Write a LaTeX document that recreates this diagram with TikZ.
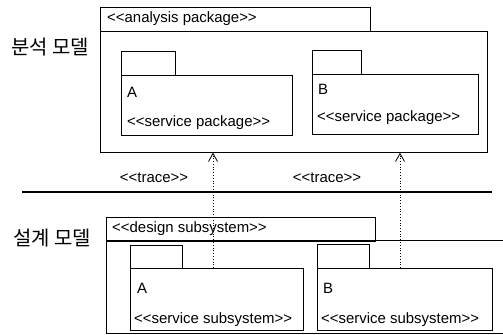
\documentclass[tikz,border=0pt]{standalone}
\usepackage{fontspec}
\setmainfont{Liberation Sans}[Ligatures=TeXOff]
\newfontfamily\hangul{Noto Sans CJK KR}
\usetikzlibrary{positioning, arrows.meta}
\tikzset{pkgbox/.style={draw, line width=0.7bp, anchor=north west, inner sep=0pt},
         stereo/.style={anchor=west, inner sep=0pt, font=\fontsize{15}{17}\selectfont},
         modellabel/.style={inner sep=0pt, font=\hangul\fontsize{20}{22}\selectfont},
         trace/.style={line width=0.8bp, dotted, -{Straight Barb[length=8bp,width=9bp]}},
         separator/.style={line width=1.6bp}}

\begin{document}
\begin{tikzpicture}[x=1bp, y=-1bp]
        \useasboundingbox (0,0) rectangle (503,334);
        \clip (0,0) rectangle (503,334);
        % analysis model
        \node (anaTab) [pkgbox, minimum width=270bp, minimum height=24bp] at (100,7) {};
        \node (anaBody) [pkgbox, minimum width=387bp, minimum height=121bp] at (100,31) {};
        \node (anaText) [stereo] at (107,19) {<<analysis package>>};
        \node (pkgATab) [pkgbox, minimum width=54bp, minimum height=24bp] at (121,51) {};
        \node (pkgA) [pkgbox, minimum width=171bp, minimum height=60bp] at (121,75) {};
        \node (pkgAName) [stereo] at (127,92) {A};
        \node (pkgAText) [stereo] at (127,123) {<<service package>>};
        \node (pkgBTab) [pkgbox, minimum width=49bp, minimum height=24bp] at (312,50) {};
        \node (pkgB) [pkgbox, minimum width=166bp, minimum height=60bp] at (312,74) {};
        \node (pkgBName) [stereo] at (318,89) {B};
        \node (pkgBText) [stereo] at (317,118) {<<service package>>};
        \node (anaLabel) [modellabel] at (50,47) {분석 모델};

        % separator
        \coordinate (sepL) at (22,192);
        \coordinate (sepR) at (492,192);
        \draw [separator] (sepL) -- (sepR);
        \node (traceA) [stereo, anchor=center] at (154,178) {<<trace>>};
        \node (traceB) [stereo, anchor=center] at (327,178) {<<trace>>};

        % design model
        \node (desTab) [pkgbox, minimum width=269bp, minimum height=24bp] at (106,217) {};
        \node (desBody) [pkgbox, minimum width=420bp, minimum height=93bp] at (106,240) {};
        \node (desText) [stereo] at (112,229) {<<design subsystem>>};
        \node (subATab) [pkgbox, minimum width=52bp, minimum height=23bp] at (130,245) {};
        \node (subA) [pkgbox, minimum width=173bp, minimum height=62bp] at (130,268) {};
        \node (subAName) [stereo] at (137,288) {A};
        \node (subAText) [stereo] at (134,320) {<<service subsystem>>};
        \node (subBTab) [pkgbox, minimum width=52bp, minimum height=24bp] at (317,244) {};
        \node (subB) [pkgbox, minimum width=175bp, minimum height=62bp] at (317,268) {};
        \node (subBName) [stereo] at (323,288) {B};
        \node (subBText) [stereo] at (321,320) {<<service subsystem>>};
        \node (desLabel) [modellabel] at (52,238) {설계 모델};

        % trace dependencies
        \coordinate (traceAx) at (213,0);
        \coordinate (traceBx) at (400,0);
        \draw [trace] (subA.north -| traceAx) -- (anaBody.south -| traceAx);
        \draw [trace] (subB.north -| traceBx) -- (anaBody.south -| traceBx);
\end{tikzpicture}
\end{document}
